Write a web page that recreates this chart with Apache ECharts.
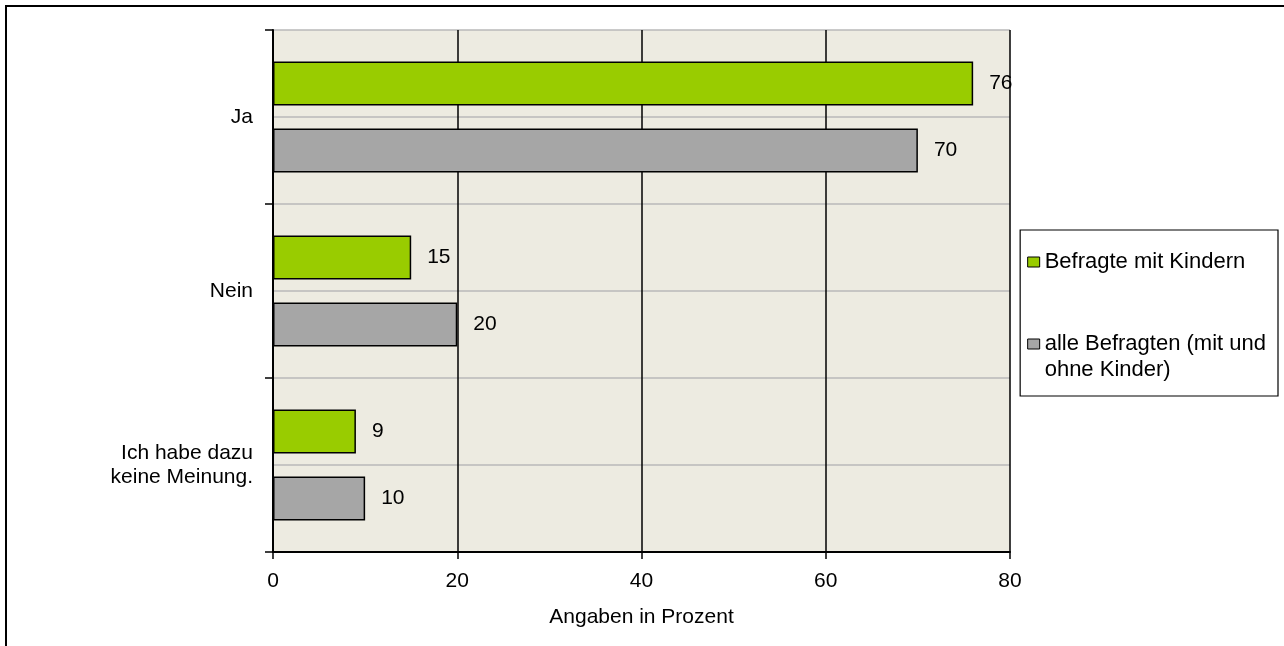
<!DOCTYPE html>
<html>
<head>
<meta charset="utf-8">
<script src="https://cdn.jsdelivr.net/npm/echarts@6/dist/echarts.min.js"></script>
<style>
html,body{margin:0;padding:0;background:#fff;}
#chart{width:1284px;height:646px;}
</style>
</head>
<body>
<div id="chart"></div>
<script>
const categories = ['Ja', 'Nein', 'Ich habe dazu\nkeine Meinung.'];
const seriesNames = ['Befragte mit Kindern', 'alle Befragten (mit und ohne Kinder)'];
const withChildren = [76, 15, 9];
const allRespondents = [70, 20, 10];
const halfBands = ['', '', '', '', '', ''];
const xTicks = { min: 0, max: 80, interval: 20 };

const FONT = "'Liberation Sans', Arial, sans-serif";
const chart = echarts.init(document.getElementById('chart'));

chart.setOption({
  animation: false,
  backgroundColor: '#fff',
  textStyle: { fontFamily: FONT },
  graphic: [{
    type: 'rect',
    shape: { x: 6, y: 6, width: 1300, height: 700 },
    style: { fill: 'none', stroke: '#000', lineWidth: 2 },
    silent: true
  }],
  grid: {
    left: 273, top: 30, right: 274, bottom: 94,
    show: true, backgroundColor: '#EDEBE1', borderWidth: 0
  },
  legend: {
    orient: 'vertical',
    right: 6, top: 230,
    padding: [19, 12, 13, 7],
    itemGap: 30,
    itemWidth: 12, itemHeight: 10,
    icon: 'rect',
    borderColor: '#000', borderWidth: 1.2,
    itemStyle: { borderColor: '#000', borderWidth: 1 },
    textStyle: { fontSize: 22, color: '#000', fontFamily: FONT, lineHeight: 26 },
    formatter: function (name) {
      return name === seriesNames[1] ? ' \nalle Befragten (mit und\nohne Kinder)' : name;
    },
    data: seriesNames
  },
  xAxis: {
    type: 'value',
    min: xTicks.min, max: xTicks.max, interval: xTicks.interval,
    name: 'Angaben in Prozent',
    nameLocation: 'middle',
    nameGap: 55,
    nameTextStyle: { fontSize: 21, color: '#000', fontFamily: FONT },
    axisLine: { show: true, lineStyle: { color: '#000', width: 2 } },
    axisTick: { show: true, length: 7, lineStyle: { color: '#000', width: 1.5 } },
    axisLabel: { fontSize: 21, color: '#000', margin: 19, fontFamily: FONT },
    splitLine: { show: true, lineStyle: { color: '#000', width: 1.5 } }
  },
  yAxis: [{
    type: 'category',
    inverse: true,
    data: categories,
    axisLine: { show: true, lineStyle: { color: '#000', width: 2 } },
    axisTick: { show: true, length: 8, lineStyle: { color: '#000', width: 1.5 } },
    axisLabel: { fontSize: 21, color: '#000', margin: 20, lineHeight: 24, align: 'right', fontFamily: FONT },
    splitLine: { show: false },
    z: 3
  }, {
    type: 'category',
    inverse: true,
    position: 'left',
    data: halfBands,
    axisLine: { show: false },
    axisTick: { show: false },
    axisLabel: { show: false },
    splitLine: { show: true, lineStyle: { color: '#B8B8B8', width: 1.5 } }
  }],
  series: [{
    name: seriesNames[0],
    type: 'bar',
    yAxisIndex: 0,
    data: withChildren,
    barWidth: 44,
    barGap: '52%',
    itemStyle: { color: '#99CC00', borderColor: '#000', borderWidth: 1.5 },
    label: { show: true, position: 'right', distance: 16, fontSize: 21, color: '#000', fontFamily: FONT },
    z: 4
  }, {
    name: seriesNames[1],
    type: 'bar',
    yAxisIndex: 0,
    data: allRespondents,
    barWidth: 44,
    barGap: '52%',
    itemStyle: { color: '#A6A6A6', borderColor: '#000', borderWidth: 1.5 },
    label: { show: true, position: 'right', distance: 16, fontSize: 21, color: '#000', fontFamily: FONT },
    z: 4
  }]
});
</script>
</body>
</html>
